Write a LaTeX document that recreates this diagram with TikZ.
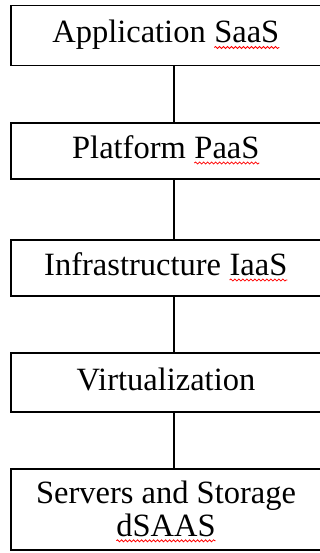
\documentclass[tikz,border=0pt]{standalone}
\usepackage{fontspec}
\setmainfont{Liberation Serif}
\usepackage{tikz}
\usetikzlibrary{decorations.pathmorphing}
\newcommand{\spellword}[1]{\tikz[baseline=(sw.base)]{%
  \node[draw=none, inner sep=0pt, outer sep=0pt, minimum width=0pt, minimum height=0pt] (sw) {#1};
  \draw[red, line width=0.8pt, decorate, decoration={snake, amplitude=1pt, segment length=4pt}]
    ([yshift=-4.5pt]sw.base west) -- ([yshift=-4.5pt]sw.base east);}}
\tikzset{
  layerbox/.style={draw, line width=1.7pt, minimum width=310pt, inner sep=0pt,
    font=\fontsize{32.5pt}{33pt}\selectfont, align=center},
  oneline/.style={text height=21pt, text depth=6pt},
  link/.style={line width=1.7pt}
}

\begin{document}
\begin{tikzpicture}[x=1pt, y=-1pt]
    \useasboundingbox (0,0) rectangle (320,553);
    \clip (0,0) rectangle (320,553);
    \node[layerbox, oneline, minimum height=60pt] (app) at (166,35.5) {Application \spellword{SaaS}};
    \node[layerbox, oneline, minimum height=56pt] (plat) at (166,151) {Platform \spellword{PaaS}};
    \node[layerbox, oneline, minimum height=56pt] (infra) at (166,268) {Infrastructure \spellword{IaaS}};
    \node[layerbox, oneline, minimum height=59pt] (virt) at (166,382.5) {Virtualization};
    \node[layerbox, text depth=2pt, minimum height=81pt] (serv) at (166,509.5) {Servers and Storage\\\spellword{dSAAS}};
    \draw[link] ([xshift=8pt]app.south) -- ([xshift=8pt]plat.north);
    \draw[link] ([xshift=8pt]plat.south) -- ([xshift=8pt]infra.north);
    \draw[link] ([xshift=8pt]infra.south) -- ([xshift=8pt]virt.north);
    \draw[link] ([xshift=8pt]virt.south) -- ([xshift=8pt]serv.north);
\end{tikzpicture}
\end{document}
